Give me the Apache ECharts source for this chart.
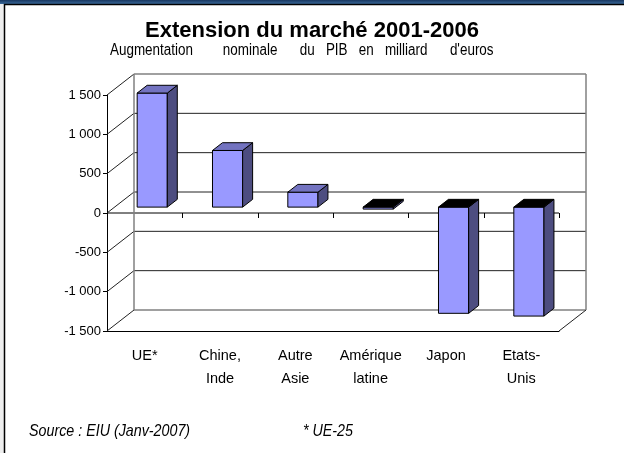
<!DOCTYPE html>
<html lang="fr">
<head>
<meta charset="UTF-8">
<title>Extension du marché 2001-2006</title>
<script src="https://cdn.jsdelivr.net/npm/echarts@6/dist/echarts.min.js"></script>
<style>html,body{margin:0;padding:0;background:#fff;}</style>
</head>
<body>
<div id="main" style="width:624px;height:453px;"></div>
<script>
// données
var categories = ['UE*', 'Chine,\nInde', 'Autre\nAsie', 'Amérique\nlatine', 'Japon', 'Etats-\nUnis'];
var values = [1450, 720, 190, -25, -1350, -1385];
var yTicks = [-1500, -1000, -500, 0, 500, 1000, 1500];

// profondeur du faux 3D (en pixels)
var DX = 27, DY = -21;
var BAR_FRONT = 0.28, BAR_BACK = 0.65;
var FONT = "'Liberation Sans', Arial, sans-serif";

function fmt(v) {
    var s = String(Math.abs(v));
    if (s.length > 3) s = s.slice(0, s.length - 3) + ' ' + s.slice(s.length - 3);
    return (v < 0 ? '-' : '') + s;
}

// murs, quadrillage du fond, ligne du zéro
function renderGrid(params, api) {
    var cs = params.coordSys;
    var x0 = cs.x, x1 = cs.x + cs.width;
    var v = api.value(1);
    var y = api.coord([0, v])[1];
    var kids = [];
    var grey = {stroke: '#808080', lineWidth: 1.5};
    var dark = {stroke: '#222', lineWidth: 1};
    // ligne du fond
    kids.push({type: 'line', shape: {x1: x0 + DX, y1: y + DY, x2: x1 + DX, y2: y + DY},
        style: (v === yTicks[0] || v === yTicks[yTicks.length - 1]) ? grey : dark});
    // diagonale du mur gauche
    kids.push({type: 'line', shape: {x1: x0, y1: y, x2: x0 + DX, y2: y + DY}, style: dark});
    if (v === yTicks[yTicks.length - 1]) {
        var yb = api.coord([0, yTicks[0]])[1];
        kids.push({type: 'line', shape: {x1: x0 + DX, y1: y + DY, x2: x0 + DX, y2: yb + DY}, style: grey});
        kids.push({type: 'line', shape: {x1: x1 + DX, y1: y + DY, x2: x1 + DX, y2: yb + DY}, style: grey});
    }
    if (v === yTicks[0]) {
        kids.push({type: 'line', shape: {x1: x1, y1: y, x2: x1 + DX, y2: y + DY}, style: dark});
    }
    if (v === 0) {
        kids.push({type: 'line', shape: {x1: x0, y1: y, x2: x1, y2: y}, style: {stroke: '#000', lineWidth: 1}});
        var step = cs.width / categories.length;
        for (var k = 1; k <= categories.length; k++) {
            var xt = Math.round(x0 + k * step) + 0.5;
            kids.push({type: 'line', shape: {x1: xt, y1: y, x2: xt, y2: y + 5}, style: {stroke: '#000', lineWidth: 1}});
        }
    }
    return {type: 'group', children: kids};
}

// barres en relief
function renderBar(params, api) {
    var i = api.value(0), v = api.value(1);
    var base = api.coord([i, 0]);
    var top = api.coord([i, v]);
    var bw = api.size([1, 0])[0] * 0.4;
    var ox = DX * BAR_FRONT, oy = DY * BAR_FRONT;
    var dx = DX * (BAR_BACK - BAR_FRONT), dy = DY * (BAR_BACK - BAR_FRONT);
    var xl = base[0] - bw / 2 + ox, xr = xl + bw;
    var yHi = Math.min(base[1], top[1]) + oy, yLo = Math.max(base[1], top[1]) + oy;
    var edge = {stroke: '#000', lineWidth: 1};
    return {type: 'group', children: [
        {type: 'rect', shape: {x: xl, y: yHi, width: bw, height: yLo - yHi},
            style: Object.assign({fill: '#9999FF'}, edge)},
        {type: 'polygon', shape: {points: [[xr, yHi], [xr + dx, yHi + dy], [xr + dx, yLo + dy], [xr, yLo]]},
            style: Object.assign({fill: '#4D4D80'}, edge)},
        {type: 'polygon', shape: {points: [[xl, yHi], [xl + dx, yHi + dy], [xr + dx, yHi + dy], [xr, yHi]]},
            style: Object.assign({fill: v < 0 ? '#000' : '#7373C0'}, edge)}
    ]};
}

var myChart = echarts.init(document.getElementById('main'));

// textes en police étroite (simulée par un étirement horizontal)
function narrow(txt, x, y, size, italic) {
    return {type: 'text', x: x, y: y, scaleX: 0.84, silent: true,
        style: {text: txt, fill: '#000', font: (italic ? 'italic ' : '') + size + 'px ' + FONT, verticalAlign: 'middle'}};
}

var option = {
    backgroundColor: '#fff',
    animation: false,
    title: {
        text: 'Extension du marché 2001-2006', left: 'center', top: 15,
        textStyle: {fontFamily: FONT, fontWeight: 'bold', fontSize: 22, color: '#000'}
    },
    graphic: [
        {type: 'rect', shape: {x: 0, y: 0, width: 624, height: 4}, silent: true,
            style: {fill: new echarts.graphic.LinearGradient(0, 0, 0, 1, [{offset: 0, color: '#17365F'}, {offset: 1, color: '#3A6A9C'}])}},
        {type: 'rect', shape: {x: 0, y: 4, width: 4, height: 449}, silent: true, style: {fill: '#eeeeee'}},
        {type: 'rect', shape: {x: 4.5, y: 4.5, width: 640, height: 460}, silent: true,
            style: {fill: null, stroke: '#000', lineWidth: 1.5}},
        narrow("Augmentation        nominale      du   PIB   en   milliard      d'euros", 110, 51, 16, false),
        narrow('Source : EIU (Janv-2007)', 29, 431, 17, true),
        narrow('* UE-25', 303, 431, 17, true)
    ],
    grid: {left: 107, right: 65, top: 95, bottom: 122},
    xAxis: {
        type: 'category',
        data: categories,
        axisLine: {onZero: false, lineStyle: {color: '#000', width: 1}},
        axisTick: {length: 5, lineStyle: {color: '#000'}},
        axisLabel: {margin: 13, lineHeight: 23, color: '#000', fontSize: 14.5, fontFamily: FONT, interval: 0},
        splitLine: {show: false}
    },
    yAxis: {
        type: 'value',
        min: -1500, max: 1500, interval: 500,
        axisLine: {show: true, lineStyle: {color: '#000', width: 1}},
        axisTick: {show: true, length: 4, lineStyle: {color: '#000'}},
        axisLabel: {margin: 6, color: '#000', fontSize: 13, fontFamily: FONT, formatter: fmt},
        splitLine: {show: false}
    },
    series: [
        {
            type: 'custom', name: 'grille', renderItem: renderGrid, z: 1, silent: true,
            data: yTicks.map(function (t) { return [0, t]; })
        },
        {
            type: 'custom', name: 'barres', renderItem: renderBar, z: 2,
            data: values.map(function (v, i) { return [i, v]; })
        }
    ]
};

myChart.setOption(option);
</script>
</body>
</html>
